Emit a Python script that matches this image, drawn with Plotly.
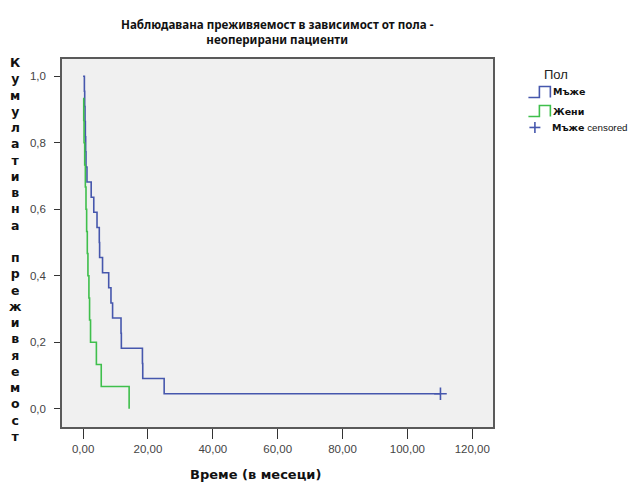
import plotly.graph_objects as go

# ---- data ----
male_times = [0.0, 0.4, 0.5, 0.6, 0.7, 0.8, 0.9, 1.2, 2.5, 3.3, 4.3, 5.0, 5.1, 6.0, 7.9, 8.6, 9.1, 11.7, 11.8, 18.3, 18.4, 25.0, 110.2]
male_surv  = [1.0, 0.955, 0.909, 0.864, 0.818, 0.773, 0.727, 0.682, 0.636, 0.591, 0.545, 0.5, 0.455, 0.409, 0.364, 0.318, 0.273, 0.227, 0.182, 0.136, 0.091, 0.045, 0.045]
male_cens_time = [110.2]
male_cens_surv = [0.045]
female_times = [0.0, 0.2, 0.3, 0.5, 0.7, 0.9, 1.1, 1.3, 1.5, 1.8, 2.0, 2.3, 4.1, 5.6, 14.2]
female_surv  = [0.933, 0.867, 0.8, 0.733, 0.667, 0.6, 0.533, 0.467, 0.4, 0.333, 0.267, 0.2, 0.133, 0.067, 0.0]

x_tickvals = [0, 20, 40, 60, 80, 100, 120]
x_ticktext = ["0,00", "20,00", "40,00", "60,00", "80,00", "100,00", "120,00"]
y_tickvals = [0.0, 0.2, 0.4, 0.6, 0.8, 1.0]
y_ticktext = ["0,0", "0,2", "0,4", "0,6", "0,8", "1,0"]

title_text = "Наблюдавана преживяемост в зависимост от пола -<br>неоперирани пациенти"
x_title = "Време (в месеци)"
y_title = "Кумулативна преживяемост"
legend_title = "Пол"
name_m = "Мъже"
name_f = "Жени"

BLUE = "#4657ad"
GREEN = "#3fbf4c"

OFF = 8  # page body margin
W, H = 636 - OFF, 488 - OFF
PL, PR, PT, PB = 61.5, 493.5, 58.5, 426.7   # plot area in page pixels
L, R, T, B = PL - OFF, W - (PR - OFF), PT - OFF, H - (PB - OFF)
PW, PH = W - L - R, H - T - B

def px(x):
    return (x - OFF - L) / PW

def py(y):
    return (H - B - (y - OFF)) / PH

fig = go.Figure()
fig.add_trace(go.Scatter(x=male_times, y=male_surv, mode="lines", line=dict(shape="hv", color=BLUE, width=1.6),
                         name=name_m, showlegend=False, hoverinfo="skip"))
fig.add_trace(go.Scatter(x=female_times, y=female_surv, mode="lines", line=dict(shape="hv", color=GREEN, width=1.6),
                         name=name_f, showlegend=False, hoverinfo="skip"))
fig.add_trace(go.Scatter(x=male_cens_time, y=male_cens_surv, mode="markers",
                         marker=dict(symbol="cross-thin", size=9, line=dict(color=BLUE, width=1.6)),
                         name=name_m + " censored", showlegend=False, hoverinfo="skip"))

axis_common = dict(showgrid=False, zeroline=False, showline=True, mirror=True, linecolor="#5a5a5a", linewidth=1.6,
                   ticks="outside", tickcolor="#333333", tickwidth=1.2,
                   tickfont=dict(family="Liberation Sans, Arial", size=11.5, color="#444444"))

fig.update_layout(
    width=W, height=H,
    margin=dict(l=L, r=R, t=T, b=B, autoexpand=False),
    paper_bgcolor="white", plot_bgcolor="#f0f0f0",
    showlegend=False,
    xaxis=dict(range=[-6.5, 126.4], tickvals=x_tickvals, ticktext=x_ticktext, ticklen=10, **axis_common),
    yaxis=dict(range=[-0.055, 1.052], tickvals=y_tickvals, ticktext=y_ticktext, ticklen=6, ticklabelstandoff=6, **axis_common),
)

ann = []
# title
ann.append(dict(text="<b>" + title_text + "</b>", xref="paper", yref="paper", x=px(278), y=py(31), showarrow=False,
                xanchor="center", yanchor="middle", font=dict(family="Noto Sans", size=11.6, color="#111111")))
# x title
ann.append(dict(text="<b>" + x_title + "</b>", xref="paper", yref="paper", x=px(255), y=py(474), showarrow=False,
                xanchor="center", yanchor="middle", font=dict(family="DejaVu Sans", size=13, color="#111111")))
# y title stacked letters
ann.append(dict(text="<b>" + "<br>".join(list(y_title)) + "</b>", xref="paper", yref="paper", x=px(15), y=py(249),
                showarrow=False, xanchor="center", yanchor="middle", align="center",
                font=dict(family="DejaVu Sans", size=12.5, color="#111111")))
# legend
ann.append(dict(text=legend_title, xref="paper", yref="paper", x=px(543), y=py(74), showarrow=False,
                xanchor="left", yanchor="middle", font=dict(family="Liberation Sans, Arial", size=13, color="#222222")))
ann.append(dict(text="<b>" + name_m + "</b>", xref="paper", yref="paper", x=px(552), y=py(91), showarrow=False,
                xanchor="left", yanchor="middle", font=dict(family="DejaVu Sans", size=9.5, color="#111111")))
ann.append(dict(text="<b>" + name_f + "</b>", xref="paper", yref="paper", x=px(552), y=py(111), showarrow=False,
                xanchor="left", yanchor="middle", font=dict(family="DejaVu Sans", size=9.5, color="#111111")))
ann.append(dict(text="<b>" + name_m + "</b><span style='font-family:Liberation Sans;font-size:9.8px'> censored</span>", xref="paper", yref="paper",
                x=px(551), y=py(127), showarrow=False,
                xanchor="left", yanchor="middle", font=dict(family="DejaVu Sans", size=9.5, color="#111111")))

shapes = []
def step_icon(y0, color):
    pts = [(529, y0 + 11), (540, y0 + 11), (540, y0), (551, y0), (551, y0 + 11)]
    path = "M " + " L ".join(f"{px(a):.5f},{py(b):.5f}" for a, b in pts)
    return dict(type="path", xref="paper", yref="paper", path=path, line=dict(color=color, width=1.6))
shapes.append(step_icon(86, BLUE))
shapes.append(step_icon(105, GREEN))
shapes.append(dict(type="line", xref="paper", yref="paper", x0=px(530), x1=px(541), y0=py(127), y1=py(127), line=dict(color=BLUE, width=1.6)))
shapes.append(dict(type="line", xref="paper", yref="paper", x0=px(535.5), x1=px(535.5), y0=py(121.5), y1=py(132.5), line=dict(color=BLUE, width=1.6)))

fig.update_layout(annotations=ann, shapes=shapes)
fig.write_html("out.html")
